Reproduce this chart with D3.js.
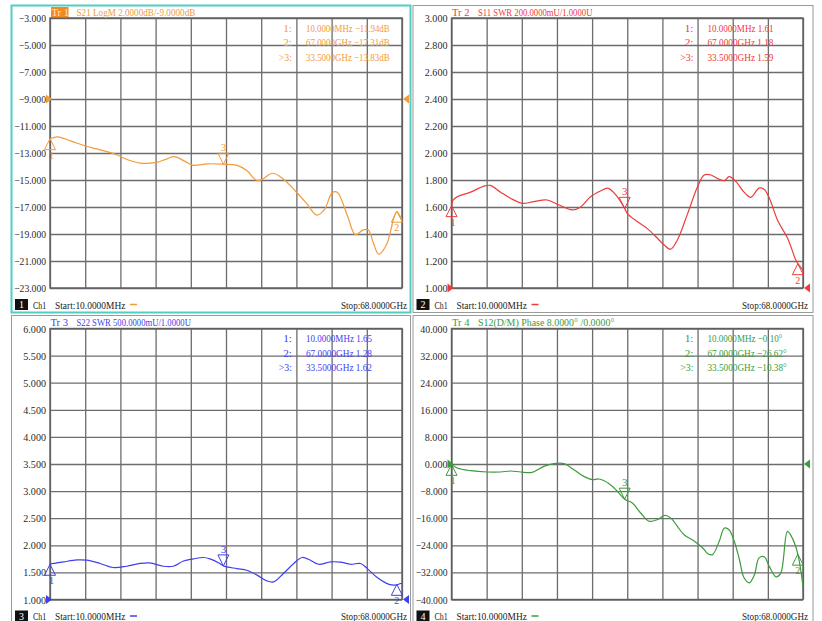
<!DOCTYPE html>
<html><head><meta charset="utf-8">
<script src="https://cdn.jsdelivr.net/npm/d3@7"></script>
<style>body{margin:0;background:#fff;overflow:hidden}</style>
</head><body><svg id="c" width="822" height="621"></svg>
<script>
// ---------- DATA ----------
const s21Freq = [0.01,1.5,4,7,9,11,13,15,17.5,20.5,22.5,24,26,27.5,30.5,33.5,36,38,40,41,43,45,47.5,49.5,51.5,53,54.5,55.5,57.5,59,60.5,61.5,62.5,63.5,65,66.5,67,68];
const s21Vals = [-11.94,-11.8,-12.1,-12.5,-12.7,-12.9,-13.15,-13.5,-13.75,-13.7,-13.45,-13.27,-13.6,-13.9,-13.8,-13.83,-13.9,-14.3,-15.05,-14.95,-14.5,-14.9,-15.85,-16.7,-17.6,-17.2,-15.95,-15.9,-17.7,-19.05,-18.7,-18.7,-19.7,-20.5,-19.8,-17.7,-17.35,-18.0];

const s11Freq = [0.01,0.3,1.1,3.7,6.3,7.5,9.5,11.4,13.7,15.9,18.5,20.5,23.4,25,26.9,28.9,30.2,31.8,33.5,34,36,37.9,39.8,41.1,42.4,43.7,45.7,47.6,48.9,50.2,51.5,52.8,53.7,55,56.6,57.9,59.5,60.5,61.5,63.1,65,66.6,67,68];
const s11Vals = [1.61,1.65,1.675,1.71,1.755,1.76,1.71,1.665,1.627,1.64,1.652,1.62,1.578,1.60,1.676,1.72,1.74,1.69,1.59,1.553,1.49,1.44,1.37,1.32,1.287,1.356,1.553,1.75,1.837,1.837,1.81,1.795,1.825,1.79,1.71,1.672,1.74,1.73,1.665,1.50,1.37,1.207,1.18,1.133];

const s22Freq = [0.01,0.65,2.6,5.2,7.1,9.7,12.2,14.8,17.4,19.3,21.9,23.8,25.8,27.7,29.6,30.9,32.8,33.5,36.1,38,40,41.9,43.2,45.1,47.1,48.7,50.3,51.9,54.2,56.1,58.1,60,61.3,63.2,65.5,67,67.7,68];
const s22Vals = [1.65,1.665,1.694,1.73,1.725,1.665,1.59,1.614,1.665,1.675,1.614,1.614,1.71,1.75,1.775,1.75,1.665,1.62,1.57,1.54,1.45,1.343,1.325,1.48,1.665,1.775,1.725,1.65,1.694,1.69,1.65,1.665,1.57,1.405,1.28,1.27,1.295,1.30];

const s12Freq = [0.01,1.1,3.7,6.9,9.5,11.4,13.4,15.6,17.9,19.8,21.8,23.7,25.6,27.3,28.5,30.5,32.1,33.5,35,36.6,38.2,39.9,41.2,42.4,43.7,45,47,48.6,49.6,50.5,51.8,52.8,53.7,54.7,55.7,56.6,57.6,58.6,59.5,60.5,61.5,62.8,63.7,65,66,67,68];
const s12Vals = [-0.10,-1.18,-1.97,-2.36,-2.36,-2.07,-2.36,-2.46,-0.7,0.1,0.1,-1.68,-3.65,-4.63,-4.43,-5.8,-8.08,-10.38,-11.5,-14.46,-16.9,-16.4,-15.2,-15.9,-18.4,-20.9,-22.8,-24.8,-26.5,-26.75,-22.8,-18.9,-19.4,-22.8,-28.2,-33.6,-35.1,-32.7,-27.7,-27.4,-30.3,-33.3,-32.2,-19.9,-22.1,-26.62,-36.1];

const s21YTicks = [-3,-5,-7,-9,-11,-13,-15,-17,-19,-21,-23];
const s11YTicks = [3.0,2.8,2.6,2.4,2.2,2.0,1.8,1.6,1.4,1.2,1.0];
const s22YTicks = [6.0,5.5,5.0,4.5,4.0,3.5,3.0,2.5,2.0,1.5,1.0];
const s12YTicks = [40,32,24,16,8,0,-8,-16,-24,-32,-40];

const markerFreqs = [0.01, 67, 33.5];
const markerNames = ["1:", "2:", ">3:"];
const s21Markers = [-11.94, -17.31, -13.83];
const s11Markers = [1.61, 1.18, 1.59];
const s22Markers = [1.65, 1.28, 1.62];
const s12Markers = [-0.10, -26.62, -10.38];

const traceNames = ["Tr 1", "Tr 2", "Tr 3", "Tr 4"];
const traceDescs = ["S21 LogM 2.0000dB/-9.0000dB", "S11 SWR 200.0000mU/1.0000U", "S22 SWR 500.0000mU/1.0000U", "S12(D/M) Phase 8.0000\u00b0 /0.0000\u00b0"];
const refLevels = [-9, 1, 1, 0];
const startLabel = "Start:10.0000MHz";
const stopLabel = "Stop:68.0000GHz";
const freqStart = 0.01, freqStop = 68;

// ---------- DRAW ----------
const svg = d3.select("#c");
const FONT = "'Liberation Serif','DejaVu Serif',serif";
const CW = 4.4; // char width of the monospace instrument font

function txt(g, s, x, y, opts) {
  opts = opts || {};
  const t = g.append("text").attr("x", x).attr("y", y).text(s)
    .attr("font-family", FONT).attr("font-size", opts.size || 11)
    .attr("fill", opts.fill || "#222")
    .attr("text-anchor", opts.anchor || "start");
  if (s.length > 1 && !opts.noLen) t.attr("textLength", s.length * (opts.cw || CW)).attr("lengthAdjust", "spacingAndGlyphs");
  return t;
}

// panel frames
const frames = [
  {x:11.5, y:5.5, w:399, h:307, stroke:"#52cdc4", sw:2},
  {x:413, y:5.5, w:400, h:307, stroke:"#9a9a9a", sw:1},
  {x:11.5, y:315.5, w:399, h:310, stroke:"#9a9a9a", sw:1},
  {x:413, y:315.5, w:400, h:310, stroke:"#9a9a9a", sw:1}
];
svg.selectAll("rect.frame").data(frames).join("rect").attr("class","frame")
  .attr("x", d=>d.x).attr("y", d=>d.y).attr("width", d=>d.w).attr("height", d=>d.h)
  .attr("fill","none").attr("stroke", d=>d.stroke).attr("stroke-width", d=>d.sw);

const panels = [
  {x0:50, y0:18, w:352, h:270, freq:s21Freq, vals:s21Vals, ticks:s21YTicks, markers:s21Markers, unit:"dB", color:"#f29b3a", active:true},
  {x0:451.5, y0:18, w:351.5, h:270, freq:s11Freq, vals:s11Vals, ticks:s11YTicks, markers:s11Markers, unit:"", color:"#f03a3a"},
  {x0:50, y0:328.5, w:352, h:271, freq:s22Freq, vals:s22Vals, ticks:s22YTicks, markers:s22Markers, unit:"", color:"#3f3fee"},
  {x0:451.5, y0:328.5, w:351.5, h:271, freq:s12Freq, vals:s12Vals, ticks:s12YTicks, markers:s12Markers, unit:"\u00b0", color:"#3c9c3c"}
];

function fmtFreq(f) {
  return f < 1 ? (f*1000).toFixed(4) + "MHz" : f.toFixed(4) + "GHz";
}

panels.forEach((p, i) => {
  const g = svg.append("g");
  const x = d3.scaleLinear().domain([freqStart, freqStop]).range([p.x0, p.x0 + p.w]);
  const yMin = d3.min(p.ticks), yMax = d3.max(p.ticks);
  const y = d3.scaleLinear().domain([yMin, yMax]).range([p.y0 + p.h, p.y0]);

  // vertical grid (10 divisions)
  const xTicks = d3.range(11).map(k => freqStart + k * (freqStop - freqStart) / 10);
  const gx = g.append("g").attr("transform", `translate(0,${p.y0 + p.h})`)
    .call(d3.axisBottom(x).tickValues(xTicks).tickSizeInner(-p.h).tickSizeOuter(0).tickFormat(""));
  gx.select(".domain").remove();
  gx.selectAll("line").attr("stroke", "#6c6c6c").attr("stroke-width", 1.3);

  // horizontal grid + labels
  const gy = g.append("g").attr("transform", `translate(${p.x0},0)`)
    .call(d3.axisLeft(y).tickValues(p.ticks).tickSizeInner(-p.w).tickSizeOuter(0).tickPadding(4).tickFormat(d3.format(".3f")));
  gy.select(".domain").remove();
  gy.selectAll("line").attr("stroke", "#6c6c6c").attr("stroke-width", 1.3);
  gy.selectAll("text").attr("font-family", FONT).attr("font-size", 11).attr("fill", "#2a2a2a")
    .each(function() { const s = d3.select(this).text(); d3.select(this).attr("textLength", s.length * 4.55).attr("lengthAdjust", "spacingAndGlyphs"); });

  g.append("rect").attr("x", p.x0).attr("y", p.y0).attr("width", p.w).attr("height", p.h)
    .attr("fill", "none").attr("stroke", "#5e5e5e").attr("stroke-width", 1.4);

  // reference level arrows
  const ry = y(refLevels[i]);
  g.append("path").attr("d", `M${p.x0-4},${ry-4.5}L${p.x0+2},${ry}L${p.x0-4},${ry+4.5}Z`).attr("fill", p.color);
  const xr = p.x0 + p.w;
  g.append("path").attr("d", `M${xr+7},${ry-4.5}L${xr+1},${ry}L${xr+7},${ry+4.5}Z`).attr("fill", p.color);

  // trace
  const data = p.freq.map((f, k) => [f, p.vals[k]]);
  const line = d3.line().x(d => x(d[0])).y(d => y(d[1])).curve(d3.curveCatmullRom.alpha(0.5));
  g.append("path").datum(data).attr("d", line).attr("fill", "none").attr("stroke", p.color).attr("stroke-width", 1.2);

  // markers
  markerFreqs.forEach((mf, k) => {
    const mx = x(mf), my = y(p.markers[k]);
    if (k < 2) {
      g.append("path").attr("d", `M${mx},${my}L${mx-5.5},${my+11}L${mx+5.5},${my+11}Z`)
        .attr("fill", "none").attr("stroke", p.color).attr("stroke-width", 1);
      txt(g, String(k + 1), mx + (k === 0 ? 1.5 : 0), my + 20, {fill: p.color, anchor: "middle", size: 10});
    } else {
      g.append("path").attr("d", `M${mx},${my}L${mx-5.5},${my-11}L${mx+5.5},${my-11}Z`)
        .attr("fill", "none").attr("stroke", p.color).attr("stroke-width", 1);
      txt(g, "3", mx, my - 13, {fill: p.color, anchor: "middle", size: 11});
    }
    // marker table
    const ty = p.y0 + 13.5 + k * 14.7;
    txt(g, markerNames[k], p.x0 + 242, ty, {fill: p.color, anchor: "end"});
    txt(g, fmtFreq(mf) + " " + d3.format(".2f")(p.markers[k]) + p.unit, p.x0 + 256, ty, {fill: p.color});
  });

  // header
  const hy = p.y0 - 2.5;
  if (p.active) {
    g.append("rect").attr("x", p.x0 + 1).attr("y", p.y0 - 11).attr("width", 17.5).attr("height", 10).attr("fill", "#f28a1e");
    txt(g, traceNames[i], p.x0 + 1.5, hy, {fill: "#fde3c4"});
  } else {
    txt(g, traceNames[i], p.x0 + 0.5, hy, {fill: p.color});
  }
  txt(g, traceDescs[i], p.x0 + 26.5, hy, {fill: p.color});

  // footer
  const fy = p.y0 + p.h + 20.5;
  g.append("rect").attr("x", p.x0 - 35).attr("y", fy - 9.5).attr("width", 13).attr("height", 11).attr("fill", "#111");
  txt(g, String(i + 1), p.x0 - 28.5, fy - 0.5, {fill: "#fff", anchor: "middle", size: 10});
  txt(g, "Ch1", p.x0 - 17, fy, {fill: "#222"});
  txt(g, startLabel, p.x0 + 5, fy, {fill: "#222"});
  g.append("line").attr("x1", p.x0 + 80).attr("x2", p.x0 + 87).attr("y1", fy - 4).attr("y2", fy - 4)
    .attr("stroke", p.color).attr("stroke-width", 1.5);
  txt(g, stopLabel, p.x0 + p.w + 5, fy, {fill: "#222", anchor: "end"});
});
</script>
</body></html>
